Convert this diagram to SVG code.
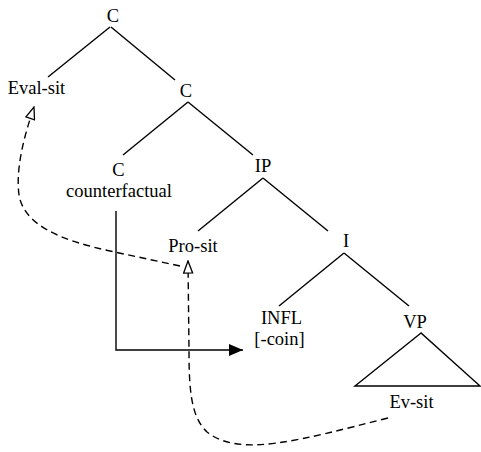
<svg xmlns="http://www.w3.org/2000/svg" width="481" height="452" viewBox="0 0 481 452">
  <style>
    .edge { stroke: #000; stroke-width: 1.4; fill: none; }
    .dash { stroke: #000; stroke-width: 1.4; fill: none; stroke-dasharray: 7 4.5; }
  </style>
  <defs>
    <marker id="solidHead" viewBox="0 0 14 12" refX="14" refY="6" markerWidth="14" markerHeight="12" markerUnits="userSpaceOnUse" orient="auto">
      <path d="M0,0 L14,6 L0,12 Z" fill="#000"/>
    </marker>
    <marker id="openHead" viewBox="0 0 14 11" refX="13" refY="5.5" markerWidth="14" markerHeight="11" markerUnits="userSpaceOnUse" orient="auto">
      <path d="M1,1 L13,5.5 L1,10 Z" fill="#fff" stroke="#000" stroke-width="1.3"/>
    </marker>
  </defs>

  <!-- tree branches and connectors -->
  <g id="connectors">
    <line class="edge" x1="110" y1="27" x2="48" y2="77"/>
    <line class="edge" x1="111" y1="27" x2="175" y2="80"/>
    <line class="edge" x1="188" y1="102" x2="123" y2="155"/>
    <line class="edge" x1="188" y1="102" x2="253" y2="155"/>
    <line class="edge" x1="263" y1="178" x2="198" y2="231"/>
    <line class="edge" x1="263" y1="178" x2="328" y2="231"/>
    <line class="edge" x1="344" y1="253" x2="279" y2="306"/>
    <line class="edge" x1="344" y1="253" x2="409" y2="306"/>
    <!-- counterfactual C feeding INFL -->
    <path class="edge" d="M116,211 L116,350 L243,350" marker-end="url(#solidHead)"/>
    <!-- Ev-sit bound by Pro-sit -->
    <path class="dash" d="M388,418 C 300,440 240,458 207,432 C 191,417 189,390 189,350 L 188,261" marker-end="url(#openHead)"/>
    <!-- Pro-sit bound by Eval-sit -->
    <path class="dash" d="M180,266 L110,251 C 60,240 24,225 19,195 C 15,165 27,128 34,107" marker-end="url(#openHead)"/>
  </g>

  <g font-family="Liberation Serif, Times New Roman, serif" font-size="18.5" fill="#000" text-anchor="middle">
    <g id="node-C-root"><text x="113" y="22">C</text></g>
    <g id="node-eval-sit"><text x="36.5" y="94">Eval-sit</text></g>
    <g id="node-C-bar"><text x="186" y="97">C</text></g>
    <g id="node-C-head">
      <text x="118.5" y="176">C</text>
      <text x="119" y="197">counterfactual</text>
    </g>
    <g id="node-IP"><text x="263" y="172">IP</text></g>
    <g id="node-pro-sit"><text x="193" y="252">Pro-sit</text></g>
    <g id="node-I"><text x="346" y="247">I</text></g>
    <g id="node-INFL">
      <text x="281.5" y="324">INFL</text>
      <text x="279.5" y="345">[-coin]</text>
    </g>
    <g id="node-VP">
      <text x="415" y="328">VP</text>
      <text x="411.5" y="408">Ev-sit</text>
    </g>
  </g>
  <path class="edge" d="M421,333 L355,386 L480,386 Z"/>
</svg>
